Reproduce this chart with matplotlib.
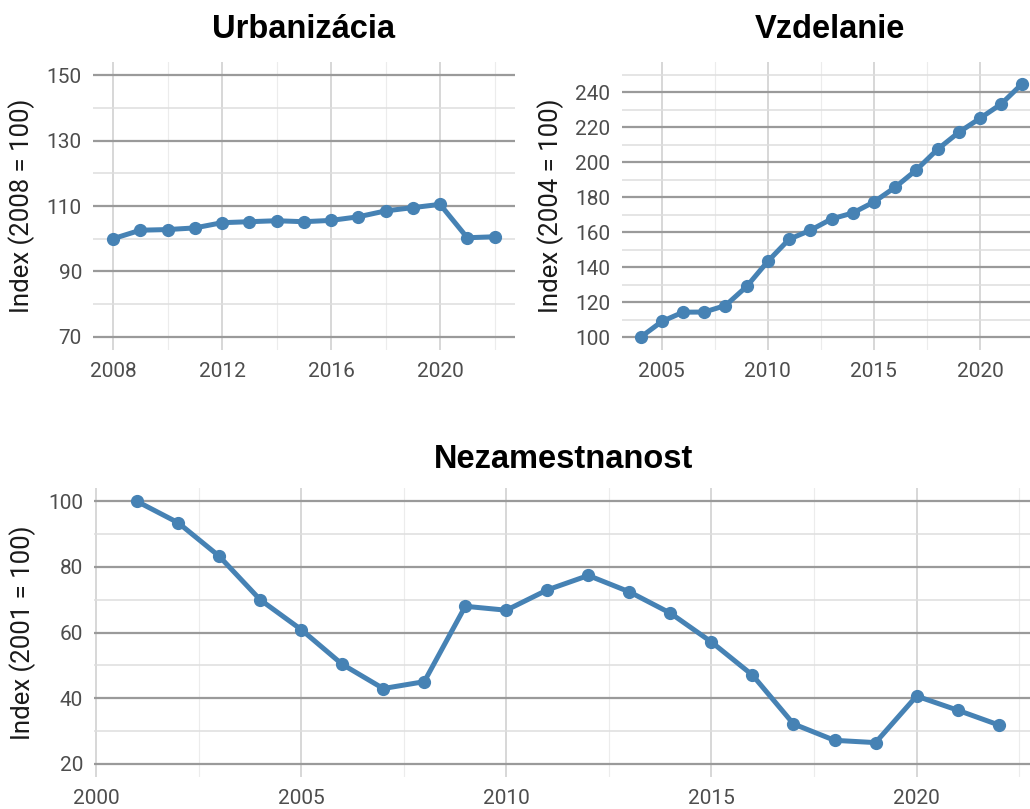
import matplotlib
matplotlib.use('Agg')
import matplotlib.pyplot as plt
from matplotlib.ticker import MultipleLocator, FixedLocator

# Daten
roky_urb = list(range(2008, 2023))
urbanizacia = [100.0, 102.6, 102.8, 103.3, 104.9, 105.2, 105.5, 105.2, 105.6,
               106.7, 108.5, 109.5, 110.5, 100.3, 100.6]

roky_vzd = list(range(2004, 2023))
vzdelanie = [100.0, 109.0, 114.3, 114.4, 118.1, 129.0, 143.4, 156.0, 161.1, 167.6,
             171.0, 177.3, 185.7, 195.6, 207.4, 217.1, 225.1, 233.3, 245.0]

roky_nez = list(range(2001, 2023))
nezamestnanost = [100.0, 93.5, 83.3, 70.0, 60.9, 50.3, 42.9, 45.0, 68.0, 66.8, 73.0,
                  77.4, 72.4, 65.9, 57.1, 47.0, 32.1, 27.1, 26.4, 40.6, 36.3, 31.8]

W, H = 1030, 809
LINE = '#4682B4'
TICK_FONT = 'Roboto'
TITLE_FONT = 'Liberation Sans'

fig = plt.figure(figsize=(W / 100, H / 100), dpi=100)
fig.patch.set_facecolor('white')


def panel(l, r, t, b):
    return fig.add_axes([l / W, 1 - b / H, (r - l) / W, (b - t) / H])


def style(ax, xmaj, xmin, ymaj, ymin):
    for s in ax.spines.values():
        s.set_visible(False)
    ax.set_axisbelow(True)
    ax.xaxis.set_major_locator(FixedLocator(xmaj))
    ax.xaxis.set_minor_locator(FixedLocator(xmin))
    ax.yaxis.set_major_locator(FixedLocator(ymaj))
    ax.yaxis.set_minor_locator(FixedLocator(ymin))
    ax.grid(which='major', axis='y', color='#9a9a9a', lw=1.6)
    ax.grid(which='minor', axis='y', color='#dedede', lw=1.1)
    ax.grid(which='major', axis='x', color='#cdcdcd', lw=1.1)
    ax.grid(which='minor', axis='x', color='#ececec', lw=0.8)
    ax.tick_params(which='both', length=0)
    ax.tick_params(axis='y', pad=8, labelsize=15, labelcolor='#4d4d4d')
    ax.tick_params(axis='x', pad=9, labelsize=15, labelcolor='#4d4d4d')
    for lab in ax.get_xticklabels() + ax.get_yticklabels():
        lab.set_fontfamily(TICK_FONT)


def draw(ax, x, y):
    ax.plot(x, y, color=LINE, lw=3.6, marker='o', markersize=8.5,
            solid_capstyle='round', solid_joinstyle='round', zorder=3, clip_on=False)


# Urbanizácia
ax1 = panel(93, 515, 62, 350)
draw(ax1, roky_urb, urbanizacia)
ax1.set_xlim(2007.266, 2022.75)
ax1.set_ylim(66, 154)
style(ax1, [2008, 2012, 2016, 2020], [2010, 2014, 2018, 2022],
      [70, 90, 110, 130, 150], [80, 100, 120, 140])

# Vzdelanie
ax2 = panel(621.5, 1041.5, 62, 350)
draw(ax2, roky_vzd, vzdelanie)
ax2.set_xlim(2003.1, 2022.9)
ax2.set_ylim(92.7, 257.3)
style(ax2, [2005, 2010, 2015, 2020], [2007.5, 2012.5, 2017.5, 2022.5],
      list(range(100, 241, 20)), list(range(110, 251, 20)))

# Nezamestnanost
ax3 = panel(94, 1041.7, 488.3, 776.7)
draw(ax3, roky_nez, nezamestnanost)
ax3.set_xlim(1999.95, 2023.05)
ax3.set_ylim(16, 104)
style(ax3, [2000, 2005, 2010, 2015, 2020], [2002.5, 2007.5, 2012.5, 2017.5, 2022.5],
      [20, 40, 60, 80, 100], [30, 50, 70, 90])

# Titulky
titles = [('Urbanizácia', 303, 38), ('Vzdelanie', 830, 38), ('Nezamestnanost', 564, 468)]
for text, x, y in titles:
    fig.text(x / W, 1 - y / H, text, ha='center', va='baseline',
             fontsize=23.5, fontweight='bold', family=TITLE_FONT, color='black')

# Popisky osi y
ylabels = [('Index (2008 = 100)', 22, 206), ('Index (2004 = 100)', 551, 206),
           ('Index (2001 = 100)', 23, 633)]
for text, x, y in ylabels:
    fig.text(x / W, 1 - y / H, text, ha='center', va='center', rotation=90,
             fontsize=18.5, family=TICK_FONT, color='#1a1a1a')

fig.savefig('out.png', dpi=100)
